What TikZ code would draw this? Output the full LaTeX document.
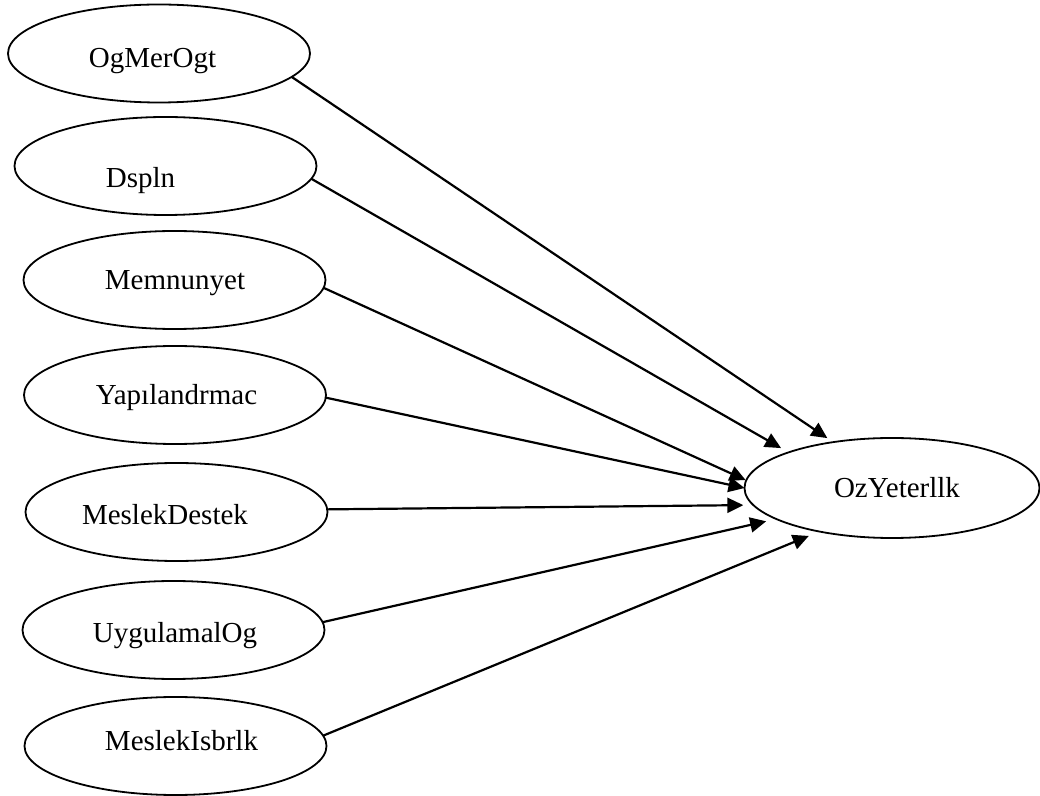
\documentclass[tikz,border=0pt]{standalone}
\usepackage{fontspec}
\setmainfont{Liberation Serif}
\usetikzlibrary{shapes.geometric,arrows.meta}
\begin{document}
\begin{tikzpicture}[x=0.5pt,y=-0.5pt,
  oval/.style={draw,ellipse,line width=0.9pt,inner sep=0pt,outer sep=0pt,minimum width=151pt,minimum height=49pt},
  bigoval/.style={draw,ellipse,line width=0.9pt,inner sep=0pt,outer sep=0pt,minimum width=147.5pt,minimum height=50pt},
  lbl/.style={inner sep=0pt,anchor=base,font=\fontsize{14.5}{17}\selectfont},
  arr/.style={line width=1.1pt,-{Triangle[length=8pt,width=7.5pt]}}]
\useasboundingbox (0,0) rectangle (1040,796);
% ellipses
\node[oval] (og) at (159,53.5) {};
\node[oval] (ds) at (165.5,166) {};
\node[oval] (me) at (174.5,280) {};
\node[oval] (ya) at (175,395) {};
\node[oval] (md) at (176.5,512) {};
\node[oval] (uy) at (173.5,630) {};
\node[oval] (mi) at (175.5,746) {};
\node[bigoval] (oz) at (892,488) {};
% labels
\node[lbl] (ogT) at (152.5,68) {OgMerOgt};
\node[lbl] (dsT) at (140.5,188) {Dspln};
\node[lbl] (meT) at (175,290) {Memnunyet};
\node[lbl] (yaT) at (176.5,405) {Yapılandrmac};
\node[lbl] (mdT) at (165,525) {MeslekDestek};
\node[lbl] (uyT) at (175,643) {UygulamalOg};
\node[lbl] (miT) at (181.5,750) {MeslekIsbrlk};
\node[lbl] (ozT) at (897,498) {OzYeterllk};
% arrows
\draw[arr,shorten >=3.6pt] (og.-10.2) -- (oz.142.9);
\draw[arr,shorten >=4.3pt] (ds.-5.1) -- (oz.161.4);
\draw[arr,shorten >=0.3pt] (me.-3.8) -- (oz.177.7);
\draw[arr] (ya.-1.1) -- (oz.180.8);
\draw[arr,shorten >=5pt] (md.1.1) -- (oz.187.7);
\draw[arr,shorten >=5.2pt] (uy.3.4) -- (oz.195.9);
\draw[arr,shorten >=5.8pt] (mi.4.2) -- (oz.211.7);
\end{tikzpicture}
\end{document}
